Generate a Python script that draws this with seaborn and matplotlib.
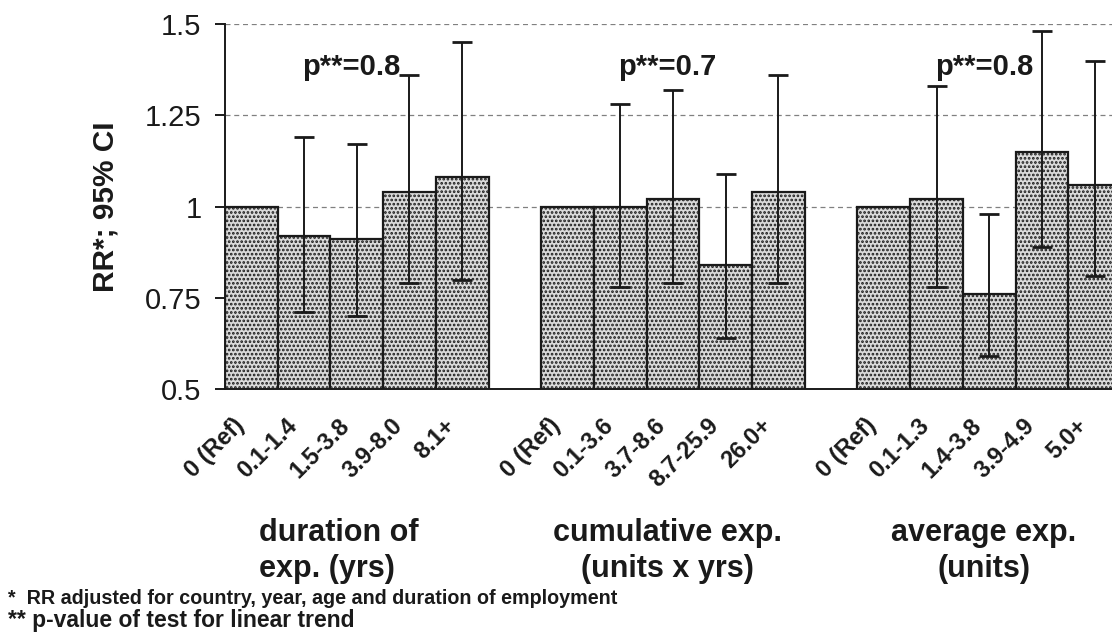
import matplotlib
matplotlib.use("Agg")
import matplotlib.pyplot as plt
import matplotlib.transforms as mtransforms
import seaborn as sns
import pandas as pd
import numpy as np

# ---------------- data ----------------
groups = ["duration of\nexp. (yrs)", "cumulative exp.\n(units x yrs)", "average exp.\n(units)"]
cats_dur = ["0 (Ref)", "0.1-1.4", "1.5-3.8", "3.9-8.0", "8.1+"]
cats_cum = ["0 (Ref)", "0.1-3.6", "3.7-8.6", "8.7-25.9", "26.0+"]
cats_avg = ["0 (Ref)", "0.1-1.3", "1.4-3.8", "3.9-4.9", "5.0+"]

rr_dur = [1.00, 0.92, 0.91, 1.04, 1.08]
lo_dur = [np.nan, 0.71, 0.70, 0.79, 0.80]
hi_dur = [np.nan, 1.19, 1.17, 1.36, 1.45]

rr_cum = [1.00, 1.00, 1.02, 0.84, 1.04]
lo_cum = [np.nan, 0.78, 0.79, 0.64, 0.79]
hi_cum = [np.nan, 1.28, 1.32, 1.09, 1.36]

rr_avg = [1.00, 1.02, 0.76, 1.15, 1.06]
lo_avg = [np.nan, 0.78, 0.59, 0.89, 0.81]
hi_avg = [np.nan, 1.33, 0.98, 1.48, 1.40]

p_labels = ["p**=0.8", "p**=0.7", "p**=0.8"]
yticks = [0.5, 0.75, 1.0, 1.25, 1.5]
ytick_labels = ["0.5", "0.75", "1", "1.25", "1.5"]
grid_levels = [1.0, 1.25, 1.5]
footnotes = ["*  RR adjusted for country, year, age and duration of employment",
             "** p-value of test for linear trend"]

# ---------------- table ----------------
cat_lists = [cats_dur, cats_cum, cats_avg]
rr_lists = [rr_dur, rr_cum, rr_avg]
lo_lists = [lo_dur, lo_cum, lo_avg]
hi_lists = [hi_dur, hi_cum, hi_avg]

rows = []
order = []
for gi, (cats, rrs, los, his) in enumerate(zip(cat_lists, rr_lists, lo_lists, hi_lists)):
    for c, r, l, h in zip(cats, rrs, los, his):
        key = f"{gi}|{c}"
        rows.append(dict(key=key, cat=c, group=gi, rr=r, lo=l, hi=h))
        order.append(key)
    if gi < len(cat_lists) - 1:
        order.append(f"gap{gi}")
df = pd.DataFrame(rows)

# ---------------- style ----------------
sns.set_style("white")
plt.rcParams["font.family"] = ["Liberation Sans", "DejaVu Sans"]
plt.rcParams["hatch.linewidth"] = 1.3
plt.rcParams["hatch.color"] = "#1a1a1a"

fig = plt.figure(figsize=(11.12, 6.36), dpi=100)
ax = fig.add_axes([225 / 1112, 1 - 389 / 636, 896 / 1112, (389 - 24) / 636])

sns.barplot(data=df, x="key", y="rr", order=order, width=1.0, ax=ax,
            color="#dadada", edgecolor="#1a1a1a", linewidth=1.6,
            hatch="....", errorbar=None, saturation=1)

pos = {k: i for i, k in enumerate(order)}
xs = df["key"].map(pos).to_numpy()
yerr = np.vstack([df["rr"] - df["lo"], df["hi"] - df["rr"]])
ax.errorbar(xs, df["rr"], yerr=yerr, fmt="none", ecolor="#1a1a1a",
            elinewidth=1.4, capsize=7, capthick=2.0, zorder=5)

for lvl in grid_levels:
    ax.axhline(lvl, color="#808080", linestyle=(0, (4, 3)), linewidth=0.9, zorder=0)

ax.set_ylim(0.5, 1.5)
ax.set_xlim(-0.5, len(order) - 0.5)
ax.set_yticks(yticks)
ax.set_yticklabels(ytick_labels, fontsize=21)
ax.tick_params(axis="y", direction="out", length=7, width=1.4, pad=10, left=True, colors="#1a1a1a")
ax.set_ylabel("RR*; 95% CI", fontsize=21.5, fontweight="bold", labelpad=18, color="#1a1a1a")

ax.set_xticks(xs)
ax.set_xticklabels(df["cat"], fontsize=17, fontweight="bold", rotation=45,
                   ha="right", va="top", rotation_mode="anchor", color="#1a1a1a")
ax.tick_params(axis="x", length=0, pad=0)
off = mtransforms.ScaledTranslation(-0.19, -0.25, fig.dpi_scale_trans)
for lab in ax.get_xticklabels():
    lab.set_transform(lab.get_transform() + off)
ax.set_xlabel("")

for s in ["top", "right"]:
    ax.spines[s].set_visible(False)
ax.spines["left"].set_linewidth(1.4)
ax.spines["bottom"].set_linewidth(1.4)
ax.spines["left"].set_color("#1a1a1a")
ax.spines["bottom"].set_color("#1a1a1a")

# group annotations
xfig_trans = mtransforms.blended_transform_factory(ax.transData, fig.transFigure)
for gi, (g, p) in enumerate(zip(groups, p_labels)):
    keys = [f"{gi}|{c}" for c in cat_lists[gi]]
    center = np.mean([pos[k] for k in keys])
    ax.text(center - 0.1, 1.382, p, ha="center", va="center", fontsize=21,
            fontweight="bold", color="#1a1a1a")
    ax.text(center - 0.1 - (0.25 if gi == 0 else 0), 1 - 551 / 636, g, ha="center", va="center",
            fontsize=22, fontweight="bold", color="#1a1a1a", linespacing=1.3,
            multialignment="left" if gi == 0 else "center", transform=xfig_trans)

fig.text(8 / 1112, 1 - 598 / 636, footnotes[0], fontsize=14.2, fontweight="bold",
         ha="left", va="center", color="#1a1a1a")
fig.text(8 / 1112, 1 - 621 / 636, footnotes[1], fontsize=16.5, fontweight="bold",
         ha="left", va="center", color="#1a1a1a")

fig.savefig("out.png", dpi=100)
